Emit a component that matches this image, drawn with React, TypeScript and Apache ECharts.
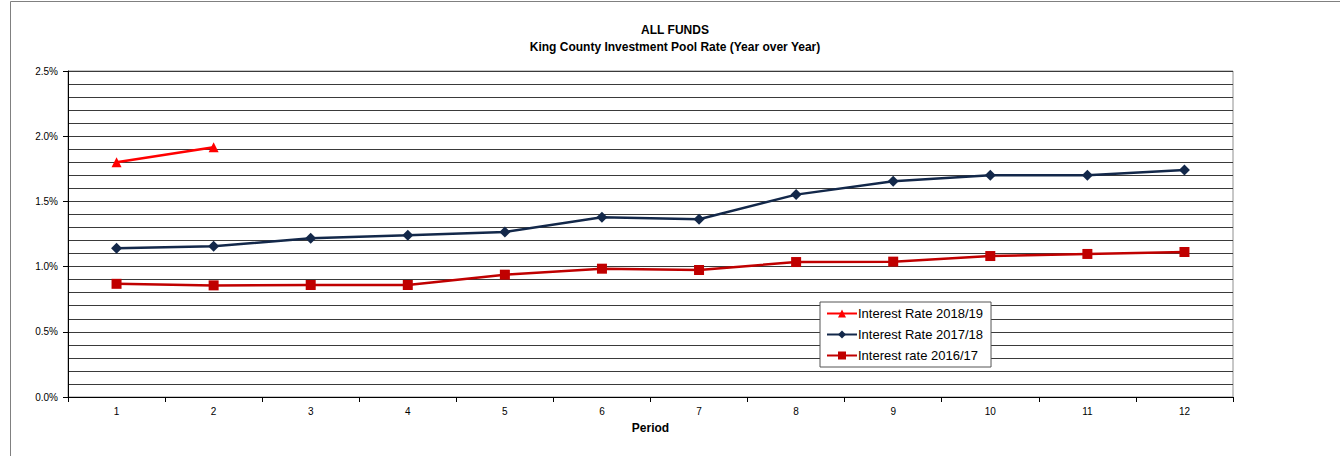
import React, { useEffect, useRef } from "react";
import * as echarts from "echarts";

const periods = ["1", "2", "3", "4", "5", "6", "7", "8", "9", "10", "11", "12"];
const rate1819 = [1.80, 1.915, null, null, null, null, null, null, null, null, null, null];
const rate1718 = [1.14, 1.156, 1.217, 1.24, 1.265, 1.378, 1.363, 1.552, 1.654, 1.70, 1.70, 1.741];
const rate1617 = [0.868, 0.856, 0.859, 0.859, 0.938, 0.984, 0.974, 1.035, 1.038, 1.081, 1.097, 1.112];
const seriesNames = ["Interest Rate 2018/19", "Interest Rate 2017/18", "Interest rate 2016/17"];

export default function App() {
  const ref = useRef<HTMLDivElement>(null);
  useEffect(() => {
    const chart = echarts.init(ref.current!, null, { renderer: "svg" });
    const font = "'Liberation Sans', Arial, sans-serif";
    chart.setOption({
      animation: false,
      textStyle: { fontFamily: font },
      title: {
        text: "ALL FUNDS\nKing County Investment Pool Rate (Year over Year)",
        left: 670,
        textAlign: "center",
        top: 16,
        textStyle: { fontSize: 12, fontWeight: "bold", color: "#000", lineHeight: 17, fontFamily: font },
      },
      graphic: [
        {
          type: "rect",
          shape: { x: 10.5, y: 1.5, width: 1400, height: 500 },
          style: { fill: "none", stroke: "#808080", lineWidth: 1 },
          silent: true,
        },
      ],
      legend: {
        orient: "vertical",
        left: 820,
        top: 302,
        padding: [5, 8, 5, 6],
        itemGap: 8,
        itemWidth: 30,
        itemHeight: 10,
        borderColor: "#555",
        borderWidth: 1,
        backgroundColor: "#fff",
        textStyle: { fontSize: 13, color: "#000", fontFamily: font, padding: [0, 0, 0, -4] },
        data: seriesNames,
      },
      grid: {
        left: 68,
        right: 107,
        top: 71,
        bottom: 59,
        show: true,
        borderColor: "#909090",
        borderWidth: 1,
      },
      xAxis: {
        type: "category",
        data: periods,
        boundaryGap: true,
        name: "Period",
        nameLocation: "middle",
        nameGap: 25,
        nameTextStyle: { fontSize: 12, fontWeight: "bold", color: "#000", fontFamily: font },
        axisLine: { lineStyle: { color: "#000", width: 1 } },
        axisTick: { show: true, length: 5, lineStyle: { color: "#000" } },
        axisLabel: { fontSize: 10, color: "#000", margin: 9, fontFamily: font },
        splitLine: { show: false },
      },
      yAxis: {
        type: "value",
        min: 0,
        max: 2.5,
        interval: 0.5,
        axisLine: { show: true, lineStyle: { color: "#000", width: 1 } },
        axisTick: { show: true, length: 5, lineStyle: { color: "#000" } },
        axisLabel: {
          fontSize: 10,
          color: "#000",
          margin: 10,
          fontFamily: font,
          formatter: (v: number) => v.toFixed(1) + "%",
        },
        splitLine: { show: true, lineStyle: { color: "#3a3a3a", width: 1 } },
        minorTick: { show: false, splitNumber: 5 },
        minorSplitLine: { show: true, lineStyle: { color: "#3a3a3a", width: 1 } },
      },
      series: [
        {
          name: seriesNames[0],
          type: "line",
          data: rate1819,
          symbol: "triangle",
          symbolSize: 10,
          color: "#ff0000",
          lineStyle: { width: 2.5, color: "#ff0000" },
          itemStyle: { color: "#ff0000" },
          connectNulls: false,
          z: 4,
        },
        {
          name: seriesNames[1],
          type: "line",
          data: rate1718,
          symbol: "diamond",
          symbolSize: 11,
          color: "#13284a",
          lineStyle: { width: 2.5, color: "#13284a" },
          itemStyle: { color: "#13284a" },
          z: 3,
        },
        {
          name: seriesNames[2],
          type: "line",
          data: rate1617,
          symbol: "rect",
          symbolSize: 10,
          color: "#c00000",
          lineStyle: { width: 2.5, color: "#c00000" },
          itemStyle: { color: "#c00000" },
          z: 2,
        },
      ],
    });
    return () => chart.dispose();
  }, []);
  return (
    <div
      ref={ref}
      style={{ position: "absolute", left: 0, top: 0, width: 1340, height: 456 }}
    />
  );
}
